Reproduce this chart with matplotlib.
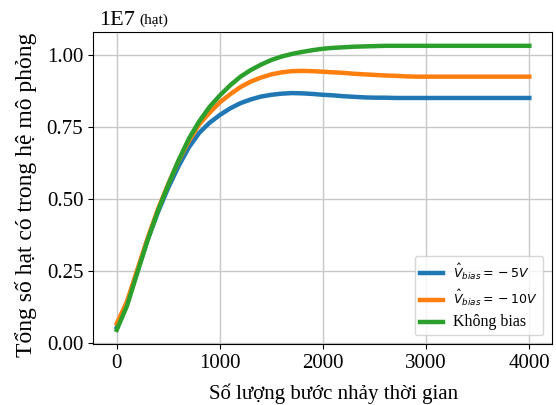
import numpy as np
import matplotlib
matplotlib.use('Agg')
import matplotlib.pyplot as plt

plt.rcParams['font.family'] = ['Liberation Serif', 'DejaVu Serif']

# time steps
steps = list(range(0, 4100, 100))

# total number of particles (x 1e7)
bias_5v = [0.055, 0.14, 0.25, 0.36, 0.455, 0.54, 0.615, 0.68, 0.73, 0.765,
           0.792, 0.815, 0.833, 0.846, 0.856, 0.862, 0.866, 0.868, 0.867, 0.865,
           0.862, 0.86, 0.857, 0.855, 0.853, 0.852, 0.852, 0.851, 0.851, 0.851,
           0.851, 0.851, 0.851, 0.851, 0.851, 0.851, 0.851, 0.851, 0.851, 0.851, 0.851]
bias_10v = [0.068, 0.145, 0.255, 0.365, 0.465, 0.553, 0.633, 0.702, 0.76, 0.80,
            0.836, 0.864, 0.889, 0.908, 0.922, 0.933, 0.94, 0.944, 0.945, 0.944,
            0.942, 0.94, 0.938, 0.935, 0.933, 0.931, 0.929, 0.928, 0.926, 0.925,
            0.925, 0.925, 0.925, 0.925, 0.925, 0.925, 0.925, 0.925, 0.925, 0.925, 0.925]
no_bias = [0.046, 0.13, 0.245, 0.358, 0.46, 0.55, 0.635, 0.71, 0.77, 0.82,
           0.86, 0.895, 0.925, 0.948, 0.967, 0.983, 0.995, 1.004, 1.011, 1.017,
           1.022, 1.025, 1.027, 1.029, 1.030, 1.031, 1.032, 1.032, 1.032, 1.032,
           1.032, 1.032, 1.032, 1.032, 1.032, 1.032, 1.032, 1.032, 1.032, 1.032, 1.032]

labels = [r'$\hat{V}_{bias} = {}- 5V$', r'$\hat{V}_{bias} = {}- 10V$', 'Không bias']

fig = plt.figure(figsize=(5.56, 4.05), dpi=100)
ax = fig.add_axes([0.1673, 0.1506, 0.8255, 0.7704])

ax.plot(steps, bias_5v, color='#1f77b4', lw=3.2, label=labels[0])
ax.plot(steps, bias_10v, color='#ff7f0e', lw=3.2, label=labels[1])
ax.plot(steps, no_bias, color='#2ca02c', lw=3.2, label=labels[2])

ax.set_xlim(-230, 4220)
ax.set_ylim(-0.003, 1.08)
ax.set_yticks([0, 0.25, 0.5, 0.75, 1.0])
ax.set_yticklabels(['0.00', '0.25', '0.50', '0.75', '1.00'])
ax.set_xticks([0, 1000, 2000, 3000, 4000])
ax.tick_params(labelsize=15)
ax.grid(True, color='#c8c8c8', lw=1)

ax.set_xlabel('Số lượng bước nhảy thời gian', fontsize=15)
ax.xaxis.set_label_coords(0.525, -0.127)
ax.set_ylabel('Tổng số hạt có trong hệ mô phỏng', fontsize=17)
ax.yaxis.set_label_coords(-0.122, 0.479)

ax.text(0.013, 1.0224, '1E7', transform=ax.transAxes, fontsize=16, va='baseline', ha='left')
ax.text(0.100, 1.027, '(hạt)', transform=ax.transAxes, fontsize=11, va='baseline', ha='left')

leg = ax.legend(loc='lower right', fontsize=9, handlelength=1.9, borderaxespad=0.7)
leg.get_texts()[2].set_fontsize(11.5)

fig.savefig('out.png', dpi=100)
